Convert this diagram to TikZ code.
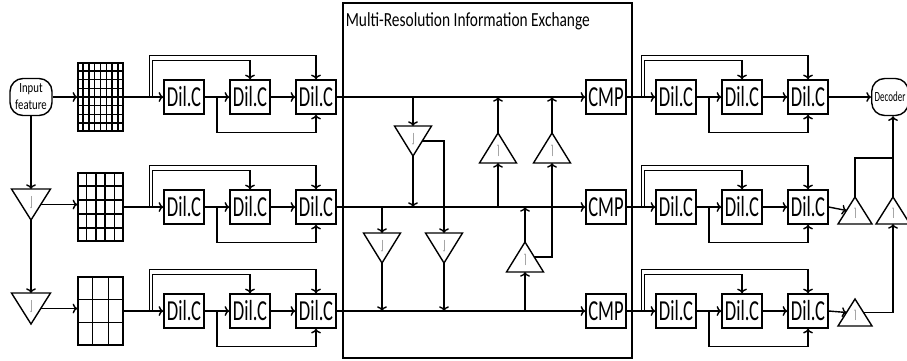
\documentclass[tikz,border=0pt]{standalone}
\usepackage{fontspec}
\setmainfont{Carlito}
\newfontfamily\boxfont[FakeStretch=0.64]{Carlito}
\newfontfamily\titlefont[FakeStretch=0.77]{Carlito}
\usetikzlibrary{calc,positioning,shapes.geometric,arrows.meta}

\begin{document}
\begin{tikzpicture}[x=1pt,y=-1pt,line width=1.4pt,
    dil/.style={draw,minimum width=40pt,minimum height=34pt,inner sep=0pt,
        font=\boxfont\fontsize{29}{29}\selectfont},
    tri/.style={draw,isosceles triangle,isosceles triangle stretches,
        minimum width=37pt,minimum height=30pt,inner sep=0pt,outer sep=0pt},
    downtri/.style={tri,rotate=-90},
    uptri/.style={tri,rotate=90},
    smalltri/.style={minimum width=34pt,minimum height=27pt},
    bigtri/.style={minimum width=39pt,minimum height=31pt},
    mesh/.style={draw,minimum width=45pt,minimum height=68pt,inner sep=0pt},
    tick/.style={gray!70,line width=0.5pt,-{To[length=1.5pt,width=2pt]}},
    term/.style={draw,rounded corners=13pt,minimum height=37pt,inner sep=4pt,
        align=center,font=\titlefont\fontsize{14}{17}\selectfont}]

\useasboundingbox (0,0) rectangle (907,360);

% input side
\node[term,minimum width=42pt] (in) at (31,97) {Input\\feature};
\node[mesh] (g1) at (100.5,97) {};
\node[mesh] (g2) at (100.5,207) {};
\node[mesh] (g3) at (100.5,311) {};
\foreach \g/\n in {g1/8,g2/5,g3/3}
    \foreach \i in {1,...,\n} {
        \draw ($(\g.north west)!\i/\n!(\g.north east)$) -- ($(\g.south west)!\i/\n!(\g.south east)$);
        \draw ($(\g.north west)!\i/\n!(\g.south west)$) -- ($(\g.north east)!\i/\n!(\g.south east)$);
    }
\node[downtri,bigtri,anchor=lower side] (s1) at (31,189) {};
\node[downtri,bigtri,anchor=lower side] (s2) at (31,293) {};
\draw[->] (in) -- (g1);
\draw[->] (in) -- (s1.lower side);
\draw[->] (s1.apex) -- (s2.lower side);
\draw[->] (s1.left side) -- (s1.left side -| g2.west);
\draw[->] (s2.left side) -- (s2.left side -| g3.west);

% the three resolutions
\foreach \r/\y in {1/97,2/207,3/311} {
    \node[dil] (d\r1) at (184,\y) {Dil.C};
    \node[dil] (d\r2) at (250,\y) {Dil.C};
    \node[dil] (d\r3) at (316,\y) {Dil.C};
    \node[dil] (c\r) at (606,\y) {CMP};
    \node[dil] (e\r1) at (676,\y) {Dil.C};
    \node[dil] (e\r2) at (742,\y) {Dil.C};
    \node[dil] (e\r3) at (808,\y) {Dil.C};
    \draw[->] (g\r) -- (d\r1);
    \draw[->] (d\r1) -- (d\r2);
    \draw[->] (d\r2) -- (d\r3);
    \draw[->] (d\r3) -- (c\r);
    \draw[->] (c\r) -- (e\r1);
    \draw[->] (e\r1) -- (e\r2);
    \draw[->] (e\r2) -- (e\r3);
    \foreach \b in {d,e} {
        \draw[->] ([xshift=-14pt]\b\r1.west) |- ([yshift=24pt]\b\r3.north) -- (\b\r3.north);
        \draw[->] ([xshift=-11pt]\b\r1.west) |- ([yshift=19pt]\b\r2.north) -- (\b\r2.north);
        \draw[->] ($(\b\r1.east)!.5!(\b\r2.west)$) |- ([yshift=-18pt]\b\r3.south) -- (\b\r3.south);
    }
}

% exchange block
\node[draw,line width=1.8pt,minimum width=289pt,minimum height=355pt,inner sep=0pt] (mrie) at (487.5,180.5) {};
\node[anchor=north west,inner sep=0pt,font=\titlefont\fontsize{20}{20}\selectfont] (title)
    at ([xshift=3pt,yshift=-10pt]mrie.north west) {Multi-Resolution Information Exchange};
\node[downtri,anchor=lower side] (x1) at (413,126) {};
\node[downtri,anchor=lower side] (x2) at (382,233) {};
\node[downtri,anchor=lower side] (x3) at (444,233) {};
\node[uptri,anchor=lower side] (x4) at (498,163) {};
\node[uptri,anchor=lower side] (x5) at (552,163) {};
\node[uptri,anchor=lower side] (x6) at (525,272) {};
\draw[->] (x1.lower side |- c1.west) -- (x1.lower side);
\draw[->] (x1.apex) -- (x1.apex |- c2.west);
\draw[->] (x1.left side) -| (x3.lower side);
\draw[->] (x2.lower side |- c2.west) -- (x2.lower side);
\draw[->] (x2.apex) -- (x2.apex |- c3.west);
\draw[->] (x3.apex) -- (x3.apex |- c3.west);
\draw[->] (x4.lower side |- c2.west) -- (x4.lower side);
\draw[->] (x4.apex) -- (x4.apex |- c1.west);
\draw[->] (x5.apex) -- (x5.apex |- c1.west);
\draw[->] (x6.lower side |- c3.west) -- (x6.lower side);
\draw[->] (x6.apex) -- (x6.apex |- c2.west);
\draw[->] (x6.right side) -| (x5.lower side);

% output side
\node[term,anchor=west,inner sep=3pt,font=\boxfont\fontsize{14}{17}\selectfont] (dec) at (871,97) {Decoder};
\draw[->] (e13) -- (dec);
\node[uptri,smalltri,anchor=lower side] (u1) at (855,224) {};
\node[uptri,smalltri,anchor=lower side] (u2) at (893,224) {};
\node[uptri,smalltri,anchor=lower side] (u3) at (855,326) {};
\draw[->] (e23.east) -- (u1.left side);
\draw[->] (e33.east) -- (u3.left side);
\coordinate (join) at ([yshift=39pt]u2.apex);
\draw (u1.apex) |- (join);
\draw[->] (u2.apex) -- (u2.apex |- dec.south);
\draw[->] (u3.right side) -| (u2.lower side);

\foreach \t in {s1,s2,x1,x2,x3,x4,x5,x6,u1,u2,u3}
    \draw[tick] ($(\t.lower side)!.22!(\t.apex)$) -- ($(\t.lower side)!.62!(\t.apex)$);
\end{tikzpicture}
\end{document}
